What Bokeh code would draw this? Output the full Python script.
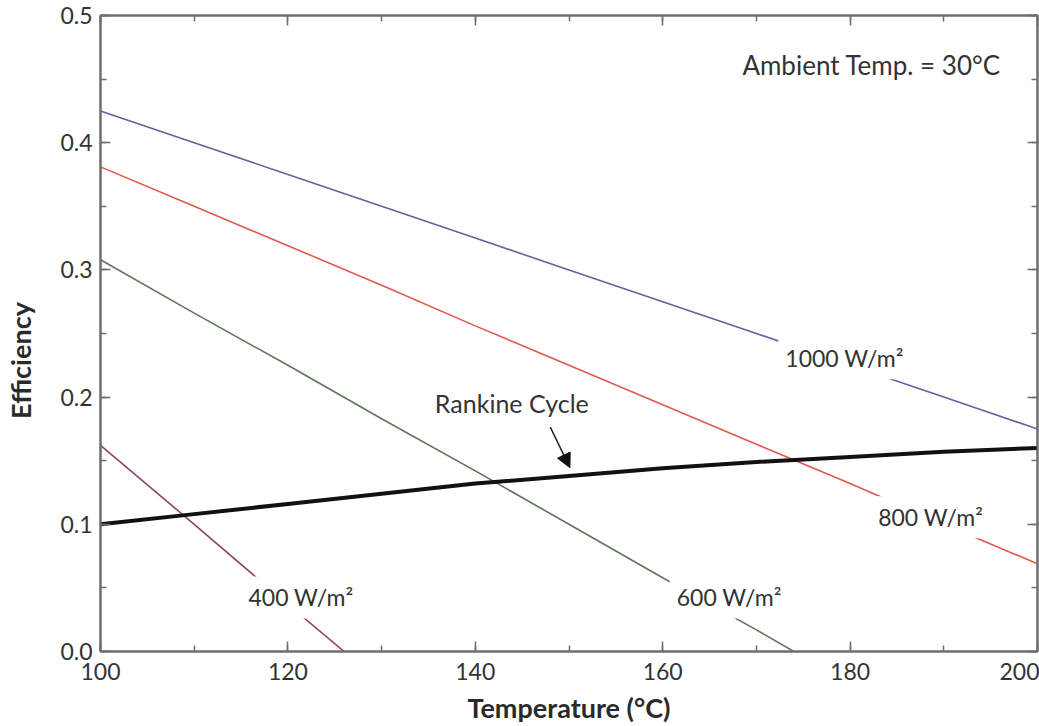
from bokeh.plotting import figure
from bokeh.models import Range1d, LinearAxis, Label, Arrow, NormalHead, NumeralTickFormatter, FixedTicker
from bokeh.embed import file_html
from bokeh.resources import INLINE

# ---- data ----
temps = [100, 110, 120, 130, 140, 150, 160, 170, 180, 190, 200]
eff_1000 = [0.425, 0.400, 0.375, 0.350, 0.325, 0.300, 0.275, 0.250, 0.225, 0.200, 0.175]
eff_800 = [0.381, 0.350, 0.319, 0.288, 0.256, 0.225, 0.194, 0.163, 0.132, 0.100, 0.069]
temps_600 = [100, 110, 120, 130, 140, 150, 160, 170, 174]
eff_600 = [0.308, 0.266, 0.225, 0.183, 0.142, 0.100, 0.058, 0.017, 0.0]
temps_400 = [100, 110, 120, 126]
eff_400 = [0.162, 0.100, 0.037, 0.0]
eff_rankine = [0.100, 0.108, 0.116, 0.124, 0.132, 0.138, 0.144, 0.149, 0.153, 0.157, 0.160]

x_ticks = [100, 120, 140, 160, 180, 200]
y_ticks = [0.0, 0.1, 0.2, 0.3, 0.4, 0.5]

FONT = "Lato"
GRAY = "#6e6e6e"
TXT = "#333333"

p = figure(width=1039, height=726, output_backend="svg", toolbar_location=None,
           x_range=Range1d(100, 200), y_range=Range1d(0, 0.5),
           min_border_left=100, min_border_right=2, min_border_top=15, min_border_bottom=75)
p.grid.visible = False
p.outline_line_color = GRAY
p.outline_line_width = 2
p.background_fill_color = "white"
p.border_fill_color = "white"

# lines
p.line(temps, eff_1000, line_color="#62629e", line_width=1.6)
p.line(temps, eff_800, line_color="#e2584a", line_width=1.6)
p.line(temps_600, eff_600, line_color="#5e7658", line_width=1.6)
p.line(temps_400, eff_400, line_color="#8c4468", line_width=1.6)
p.line(temps, eff_rankine, line_color="#111111", line_width=4)

def style_axis(ax, show_labels):
    ax.axis_line_color = GRAY
    ax.axis_line_width = 2
    ax.major_tick_line_color = GRAY
    ax.minor_tick_line_color = GRAY
    ax.major_tick_line_width = 1.5
    ax.minor_tick_line_width = 1.5
    ax.major_tick_in = 10
    ax.major_tick_out = 0
    ax.minor_tick_in = 6
    ax.minor_tick_out = 0
    ax.major_label_text_font = FONT
    ax.major_label_text_font_size = "23px"
    ax.major_label_text_color = TXT
    if not show_labels:
        ax.major_label_text_font_size = "0px"
        ax.major_label_standoff = 0
        ax.major_label_text_alpha = 0

xt = FixedTicker(ticks=x_ticks, minor_ticks=list(range(100, 201, 10)))
yt = FixedTicker(ticks=y_ticks, minor_ticks=[i * 0.05 for i in range(11)])

p.xaxis.ticker = xt
p.yaxis.ticker = yt
p.yaxis.formatter = NumeralTickFormatter(format="0.0")
style_axis(p.xaxis[0], True)
style_axis(p.yaxis[0], True)
p.xaxis.major_label_standoff = 11
p.yaxis.major_label_standoff = 8
p.xaxis.axis_label = "Temperature (°C)"
# em spaces at the end shift the rotated title a little downward, as in the reference
p.yaxis.axis_label = "Efficiency\u2003\u2003\u2002"
for ax in (p.xaxis[0], p.yaxis[0]):
    ax.axis_label_text_font = FONT
    ax.axis_label_text_font_style = "bold"
    ax.axis_label_text_font_size = "27px"
    ax.axis_label_text_color = "#2a2a2a"
p.xaxis.axis_label_standoff = 8
p.yaxis.axis_label_standoff = 20

top = LinearAxis(ticker=xt)
right = LinearAxis(ticker=yt)
style_axis(top, False)
style_axis(right, False)
p.add_layout(top, "above")
p.add_layout(right, "right")

def lab(x, y, t, bg=True, size="23px"):
    kw = dict(x=x, y=y, text=t, text_font=FONT, text_font_size=size, text_color=TXT,
              text_align="center", text_baseline="middle")
    if bg:
        kw.update(background_fill_color="white", padding=7)
    p.add_layout(Label(**kw))

lab(179.4, 0.2305, "1000 W/m²")
lab(188.6, 0.1055, "800 W/m²")
lab(167.1, 0.0425, "600 W/m²")
lab(121.4, 0.0425, "400 W/m²")
lab(143.9, 0.195, "Rankine Cycle", bg=False, size="25px")
lab(182.3, 0.461, "Ambient Temp. = 30°C", bg=False, size="26px")

p.add_layout(Arrow(end=NormalHead(size=14, fill_color="#111111", line_color="#111111"),
                   x_start=148.0, y_start=0.1764, x_end=150.1, y_end=0.1445,
                   line_color="#222222", line_width=1.5))

open("out.html", "w").write(file_html(p, INLINE))
